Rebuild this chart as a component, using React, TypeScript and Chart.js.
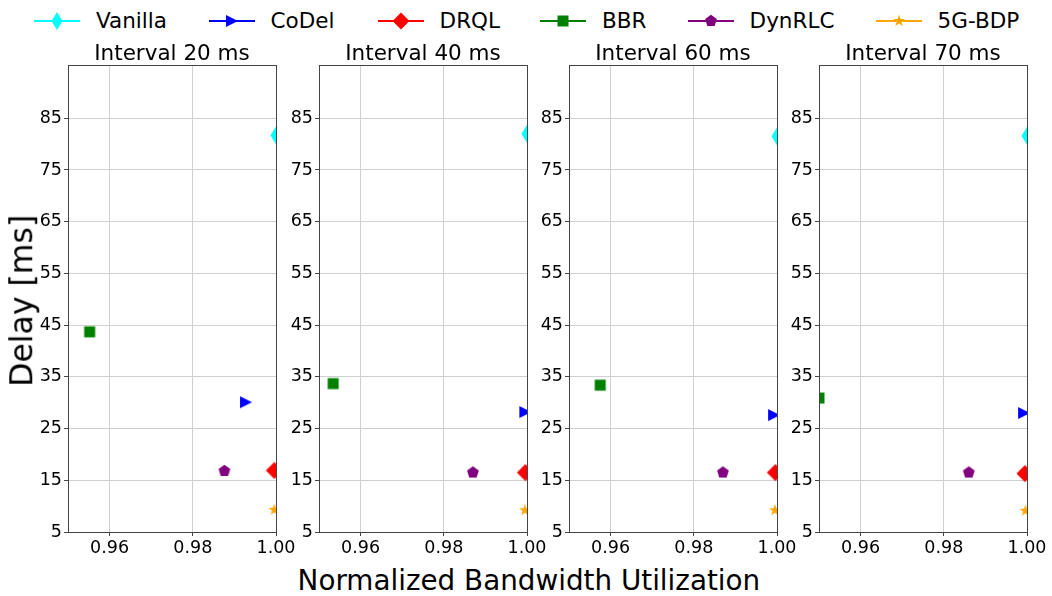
import React, { useEffect, useRef } from "react";
import { Chart, registerables } from "chart.js";

Chart.register(...registerables);

// ---------------- data ----------------
const SERIES = ["Vanilla", "CoDel", "DRQL", "BBR", "DynRLC", "5G-BDP"];
const COLORS = ["#00ffff", "#0000ff", "#ff0000", "#008000", "#800080", "#ffa500"];
const MARKERS = ["thinDiamond", "triangleRight", "diamond", "square", "pentagon", "star"];
const PANEL_TITLES = ["Interval 20 ms", "Interval 40 ms", "Interval 60 ms", "Interval 70 ms"];

const X_TICKS = [0.96, 0.98, 1.0];
const Y_TICKS = [5, 15, 25, 35, 45, 55, 65, 75, 85];
const X_MIN = 0.95;
const X_MAX = 1.0;
const Y_MIN = 5;
const Y_MAX = 95.3;

// order of values: Vanilla, CoDel, DRQL, BBR, DynRLC, 5G-BDP
const UTIL_20 = [1.0, 0.9928, 0.9996, 0.9552, 0.9876, 0.9996];
const DELAY_20 = [81.7, 30.1, 16.9, 43.7, 16.8, 9.3];
const UTIL_40 = [1.0, 0.9996, 0.9996, 0.9534, 0.987, 0.9995];
const DELAY_40 = [82.0, 28.2, 16.5, 33.7, 16.5, 9.2];
const UTIL_60 = [1.0, 0.9993, 0.9996, 0.9575, 0.987, 0.9995];
const DELAY_60 = [81.5, 27.6, 16.5, 33.4, 16.5, 9.2];
const UTIL_70 = [1.0, 0.9993, 0.9995, 0.95, 0.986, 0.9996];
const DELAY_70 = [81.6, 28.0, 16.3, 30.9, 16.5, 9.1];

const PANEL_UTIL = [UTIL_20, UTIL_40, UTIL_60, UTIL_70];
const PANEL_DELAY = [DELAY_20, DELAY_40, DELAY_60, DELAY_70];

// ---------------- layout / style ----------------
const FONT = "'DejaVu Sans', 'Liberation Sans', sans-serif";
const PLOT_LEFTS = [68, 319, 569, 819];
const PLOT_W = 208;
const Y_AXIS_W = 50;
const RIGHT_PAD = 24;
const CANVAS_TOP = 44;
const CANVAS_H = 518;
const X_AXIS_H = 30;
const GRID = "#d0d0d0";
const SPINE = "#444444";
const LEGEND_TEXT_X = [96, 270.5, 439.6, 602, 749.6, 937.6];
const LEGEND_LINE_W = 46;

function tracePath(ctx: CanvasRenderingContext2D, shape: string, cx: number, cy: number) {
  ctx.beginPath();
  switch (shape) {
    case "thinDiamond":
      ctx.moveTo(cx, cy - 9);
      ctx.lineTo(cx + 5.5, cy);
      ctx.lineTo(cx, cy + 9);
      ctx.lineTo(cx - 5.5, cy);
      break;
    case "triangleRight":
      ctx.moveTo(cx + 6, cy);
      ctx.lineTo(cx - 6, cy - 6);
      ctx.lineTo(cx - 6, cy + 6);
      break;
    case "diamond":
      ctx.moveTo(cx, cy - 8.5);
      ctx.lineTo(cx + 8.5, cy);
      ctx.lineTo(cx, cy + 8.5);
      ctx.lineTo(cx - 8.5, cy);
      break;
    case "square":
      ctx.rect(cx - 5.5, cy - 5.5, 11, 11);
      break;
    case "pentagon": {
      const r = 6.2;
      for (let k = 0; k < 5; k++) {
        const a = -Math.PI / 2 + (k * 2 * Math.PI) / 5;
        const px = cx + r * Math.cos(a);
        const py = cy + r * Math.sin(a);
        if (k === 0) ctx.moveTo(px, py);
        else ctx.lineTo(px, py);
      }
      break;
    }
    case "star": {
      const ro = 6.3;
      const ri = ro * 0.382;
      for (let k = 0; k < 10; k++) {
        const a = -Math.PI / 2 + (k * Math.PI) / 5;
        const r = k % 2 === 0 ? ro : ri;
        const px = cx + r * Math.cos(a);
        const py = cy + r * Math.sin(a);
        if (k === 0) ctx.moveTo(px, py);
        else ctx.lineTo(px, py);
      }
      break;
    }
  }
  ctx.closePath();
}

function markerCanvas(shape: string, color: string): HTMLCanvasElement {
  const S = 11;
  const c = document.createElement("canvas");
  c.width = 2 * S;
  c.height = 2 * S;
  const ctx = c.getContext("2d")!;
  ctx.fillStyle = color;
  tracePath(ctx, shape, S, S);
  ctx.fill();
  return c;
}

const spinePlugin = {
  id: "spines",
  afterDatasetsDraw(chart: any) {
    const { ctx, chartArea: a } = chart;
    const al = (p: number) => Math.round(p - 0.5) + 0.5;
    ctx.save();
    ctx.strokeStyle = SPINE;
    ctx.lineWidth = 1;
    const l = al(a.left);
    const r = al(a.right);
    const t = al(a.top);
    const b = al(a.bottom);
    ctx.strokeRect(l, t, r - l, b - t);
    ctx.restore();
  },
};

function Panel({ index }: { index: number }) {
  const ref = useRef<HTMLCanvasElement>(null);
  useEffect(() => {
    const canvas = ref.current!;
    const util = PANEL_UTIL[index];
    const delay = PANEL_DELAY[index];
    const datasets = SERIES.map((name, i) => ({
      label: name,
      data: [{ x: util[i], y: delay[i] }],
      pointStyle: markerCanvas(MARKERS[i], COLORS[i]),
      pointRadius: 6,
      backgroundColor: COLORS[i],
      borderColor: COLORS[i],
      clip: 0,
      order: SERIES.length - i,
    }));
    const chart = new Chart(canvas, {
      type: "scatter",
      data: { datasets } as any,
      options: {
        responsive: false,
        animation: false,
        devicePixelRatio: 1,
        events: [],
        layout: { padding: { left: 0, right: RIGHT_PAD, top: 0, bottom: 0 } },
        plugins: {
          legend: { display: false },
          tooltip: { enabled: false },
          title: {
            display: true,
            fullSize: false,
            align: "center",
            text: PANEL_TITLES[index],
            color: "#000",
            font: { family: FONT, size: 21.5, weight: "normal", lineHeight: 21 / 21.5 },
            padding: 0,
          },
        },
        scales: {
          x: {
            type: "linear",
            min: X_MIN,
            max: X_MAX,
            afterBuildTicks: (s: any) => {
              s.ticks = X_TICKS.map((v) => ({ value: v }));
            },
            afterFit: (s: any) => {
              s.height = X_AXIS_H;
            },
            ticks: {
              color: "#000",
              font: { family: FONT, size: 17.5 },
              padding: 2,
              maxRotation: 0,
              autoSkip: false,
              callback: (v: any) => Number(v).toFixed(2),
            },
            grid: { color: GRID, lineWidth: 1, tickLength: 4, tickColor: SPINE, drawTicks: true },
            border: { display: false },
          },
          y: {
            type: "linear",
            min: Y_MIN,
            max: Y_MAX,
            afterBuildTicks: (s: any) => {
              s.ticks = Y_TICKS.map((v) => ({ value: v }));
            },
            afterFit: (s: any) => {
              s.width = Y_AXIS_W;
            },
            ticks: {
              color: "#000",
              font: { family: FONT, size: 17.5 },
              padding: 2,
              autoSkip: false,
              callback: (v: any) => String(v),
            },
            grid: { color: GRID, lineWidth: 1, tickLength: 4, tickColor: SPINE, drawTicks: true },
            border: { display: false },
          },
        },
      } as any,
      plugins: [spinePlugin],
    });
    return () => chart.destroy();
  }, [index]);
  const w = Y_AXIS_W + PLOT_W + RIGHT_PAD;
  return (
    <canvas
      ref={ref}
      width={w}
      height={CANVAS_H}
      style={{
        position: "absolute",
        left: PLOT_LEFTS[index] - Y_AXIS_W,
        top: CANVAS_TOP,
        width: w,
        height: CANVAS_H,
      }}
    />
  );
}

function LegendHandle({ i }: { i: number }) {
  const ref = useRef<HTMLCanvasElement>(null);
  useEffect(() => {
    const ctx = ref.current!.getContext("2d")!;
    ctx.clearRect(0, 0, LEGEND_LINE_W, 20);
    ctx.strokeStyle = COLORS[i];
    ctx.lineWidth = 2;
    ctx.beginPath();
    ctx.moveTo(0, 10);
    ctx.lineTo(LEGEND_LINE_W, 10);
    ctx.stroke();
    ctx.fillStyle = COLORS[i];
    tracePath(ctx, MARKERS[i], LEGEND_LINE_W / 2, 10);
    ctx.fill();
  }, [i]);
  return (
    <canvas
      ref={ref}
      width={LEGEND_LINE_W}
      height={20}
      style={{ position: "absolute", left: Math.round(LEGEND_TEXT_X[i] - 62), top: 11 }}
    />
  );
}

export default function App() {
  return (
    <div
      style={{
        position: "absolute",
        left: 0,
        top: 0,
        width: 1052,
        height: 596,
        background: "#fff",
        overflow: "hidden",
        fontFamily: FONT,
        color: "#000",
      }}
    >
      {SERIES.map((name, i) => (
        <React.Fragment key={name}>
          <LegendHandle i={i} />
          <div
            style={{
              position: "absolute",
              left: LEGEND_TEXT_X[i],
              top: 10,
              fontSize: 21.5,
              lineHeight: "21.5px",
              whiteSpace: "nowrap",
            }}
          >
            {name}
          </div>
        </React.Fragment>
      ))}
      {PANEL_TITLES.map((t, i) => (
        <Panel key={t} index={i} />
      ))}
      <div
        style={{
          position: "absolute",
          left: 22.2 - 150,
          top: 301 - 15.75,
          width: 300,
          height: 31.5,
          fontSize: 31.5,
          lineHeight: "31.5px",
          textAlign: "center",
          whiteSpace: "nowrap",
          transform: "rotate(-90deg)",
        }}
      >
        Delay [ms]
      </div>
      <div
        style={{
          position: "absolute",
          left: 528.9 - 300,
          top: 566.5,
          width: 600,
          fontSize: 27.8,
          lineHeight: "27.8px",
          textAlign: "center",
          whiteSpace: "nowrap",
        }}
      >
        Normalized Bandwidth Utilization
      </div>
    </div>
  );
}
